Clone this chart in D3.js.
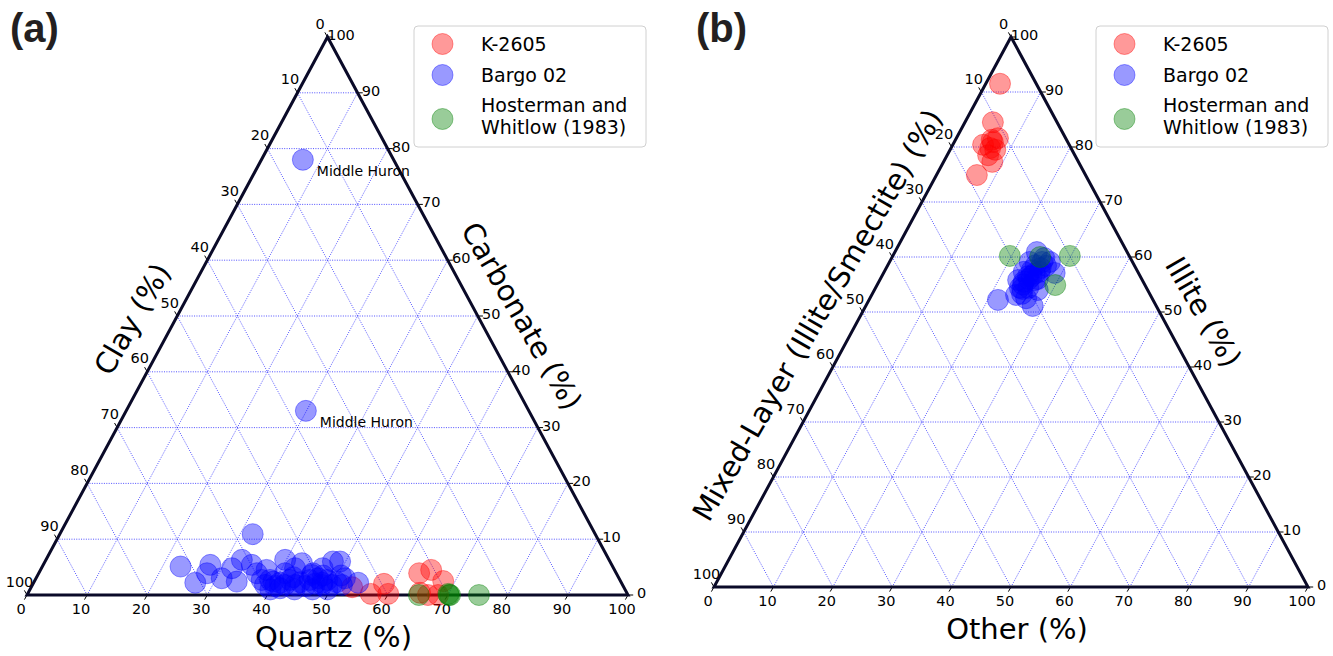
<!DOCTYPE html>
<html>
<head>
<meta charset="utf-8">
<script src="https://cdn.jsdelivr.net/npm/d3@7"></script>
<style>
  body { margin: 0; background: #fff; }
  svg { display: block; }
  text { font-family: "DejaVu Sans", "Noto Sans", sans-serif; fill: #000; }
</style>
</head>
<body>
<svg id="chart" width="1333" height="656"></svg>
<script>
// ---- Data -------------------------------------------------------------
// Ternary tick / grid values (percent)
const tickValues = [0, 10, 20, 30, 40, 50, 60, 70, 80, 90, 100];
const gridValues = [10, 20, 30, 40, 50, 60, 70, 80, 90];
const seriesNames = ["K-2605", "Bargo 02", "Hosterman and\nWhitlow (1983)"];

// (a) Bulk mineralogy: [Quartz, Carbonate, Clay] in %
const k2605Bulk = [
  [53.4, 1.4, 45.2], [57.1, 0.2, 42.7], [58.4, 2.0, 39.6], [60.0, 0.2, 39.8],
  [63.3, 3.9, 32.8], [65.0, 4.5, 30.5], [68.0, 2.5, 29.5], [65.2, 0.4, 34.4],
  [66.7, 0.0, 33.3], [68.4, 0.0, 31.6]
];
const bargoBulk = [
  [6.9, 78.0, 15.1], [29.9, 33.0, 37.1],
  [32.1, 10.9, 57.0], [23.0, 5.1, 71.9], [26.9, 2.2, 70.9], [27.8, 5.4, 66.8],
  [28.0, 3.9, 68.1], [30.9, 3.0, 66.1], [31.7, 4.8, 63.5], [32.6, 6.3, 61.1],
  [33.7, 2.4, 63.9], [34.7, 5.4, 59.9], [36.3, 3.9, 59.8], [37.6, 4.5, 57.9],
  [37.7, 2.7, 59.6], [39.8, 2.4, 57.8], [39.8, 6.3, 53.9], [42.2, 4.8, 53.0],
  [42.9, 5.7, 51.4], [41.0, 3.9, 55.1], [45.6, 3.9, 50.5], [47.9, 6.0, 46.1],
  [49.1, 6.0, 44.9], [46.8, 4.8, 48.4], [54.0, 2.2, 43.8], [38.7, 1.8, 59.5],
  [39.1, 2.7, 58.2], [40.5, 1.6, 57.9], [41.0, 2.2, 56.8], [42.0, 1.8, 56.2],
  [42.4, 2.7, 54.9], [43.7, 1.8, 54.5], [44.3, 2.3, 53.4], [45.5, 1.6, 52.9],
  [45.7, 2.7, 51.6], [46.9, 2.0, 51.1], [46.9, 3.0, 50.1], [48.2, 1.8, 50.0],
  [48.6, 2.7, 48.7], [49.8, 1.8, 48.4], [50.4, 2.3, 47.3], [51.5, 1.8, 46.7],
  [45.6, 3.6, 50.8], [51.4, 3.0, 45.6], [42.7, 3.2, 54.1], [40.0, 1.0, 59.0],
  [41.5, 1.2, 57.3], [47.0, 1.0, 52.0], [48.0, 2.2, 49.8], [49.5, 1.0, 49.5],
  [47.5, 3.5, 49.0], [44.0, 1.0, 55.0], [50.5, 3.5, 46.0]
];
const hostermanBulk = [
  [65.2, 0.0, 34.8], [70.2, 0.0, 29.8], [70.0, 0.2, 29.8], [70.4, 0.0, 29.6],
  [75.2, 0.0, 24.8]
];
// Labelled samples in (a): [Quartz, Carbonate, Clay]
const bulkAnnotations = [
  { text: "Middle Huron", at: [6.9, 78.0, 15.1] },
  { text: "Middle Huron", at: [29.9, 33.0, 37.1] }
];

// (b) Clay mineralogy: [Other, Illite, Mixed-Layer I/S] in %
const k2605Clay = [
  [2.4, 91.5, 6.1], [4.7, 84.5, 10.8], [7.0, 81.6, 11.4], [6.5, 80.9, 12.6],
  [5.1, 80.4, 14.5], [6.1, 81.3, 12.6], [6.6, 79.8, 13.6], [7.6, 79.5, 12.9],
  [6.9, 78.5, 14.6], [8.2, 77.3, 14.5], [6.8, 74.9, 18.3]
];
const bargoClay = [
  [21.7, 52.2, 26.1], [28.1, 51.1, 20.8], [23.9, 60.9, 15.2], [28.8, 57.1, 14.1],
  [24.3, 53.1, 22.6], [24.3, 54.4, 21.3], [24.4, 55.5, 20.1], [24.6, 56.5, 18.9],
  [24.7, 57.6, 17.7], [24.9, 58.5, 16.6], [25.7, 59.1, 15.2], [26.7, 58.4, 14.9],
  [26.2, 57.3, 16.5], [26.1, 55.8, 18.1], [25.7, 54.4, 19.9], [25.2, 53.3, 21.5],
  [23.3, 55.8, 20.9], [23.5, 57.3, 19.2], [23.6, 59.1, 17.3], [25.7, 59.8, 14.5],
  [27.0, 59.1, 13.9], [27.5, 54.0, 18.5], [26.3, 52.5, 21.2], [25.0, 56.0, 19.0],
  [25.5, 57.0, 17.5], [24.5, 55.0, 20.5], [26.0, 58.0, 16.0], [25.2, 56.5, 18.3],
  [24.8, 54.2, 21.0], [26.5, 56.0, 17.5]
];
const hostermanClay = [
  [19.7, 60.2, 20.1], [24.9, 60.0, 15.1], [29.8, 60.2, 10.0], [30.0, 54.9, 15.1]
];

// ---- Styling ----------------------------------------------------------
const seriesColors = ["#ff0000", "#0000ff", "#008000"];
const markerR = 10.5;
const edgeColor = "#0a0a28";

const svg = d3.select("#chart");

function drawPanel(cfg) {
  const g = svg.append("g");
  const xs = d3.scaleLinear().domain([0, 100]).range([cfg.frame.left, cfg.frame.right]);
  const ys = d3.scaleLinear().domain([0, 100]).range([cfg.frame.base, cfg.frame.top]);
  // ternary (bottom, right, left) -> screen
  const proj = (b, r) => [xs(b + r / 2), ys(r)];

  // grid
  const gridSegs = [];
  gridValues.forEach(v => {
    gridSegs.push([proj(0, v), proj(100 - v, v)]);     // constant right-axis value
    gridSegs.push([proj(v, 0), proj(v, 100 - v)]);     // constant bottom-axis value
    gridSegs.push([proj(0, 100 - v), proj(100 - v, 0)]); // constant left-axis value
  });
  g.append("g").selectAll("line").data(gridSegs).join("line")
    .attr("x1", d => d[0][0]).attr("y1", d => d[0][1])
    .attr("x2", d => d[1][0]).attr("y2", d => d[1][1])
    .attr("stroke", "#1a1aff").attr("stroke-width", 0.8)
    .attr("stroke-opacity", 0.95).attr("stroke-dasharray", "1,1.4");

  // ticks
  const tk = g.append("g");
  const tickFont = 14.5;
  tickValues.forEach(v => {
    // bottom axis
    let p = proj(v, 0);
    tk.append("line").attr("x1", p[0]).attr("y1", p[1]).attr("x2", p[0] - 2.6).attr("y2", p[1] + 4.6)
      .attr("stroke", "#000").attr("stroke-width", 1);
    tk.append("text").attr("x", p[0] - 6).attr("y", p[1] + 18.5).attr("text-anchor", "middle")
      .attr("font-size", tickFont).text(v);
    // right axis
    p = proj(100 - v, v);
    tk.append("line").attr("x1", p[0]).attr("y1", p[1]).attr("x2", p[0] + 5.2).attr("y2", p[1])
      .attr("stroke", "#000").attr("stroke-width", 1);
    tk.append("text").attr("x", p[0] + 13.5).attr("y", p[1] + 3).attr("text-anchor", "middle")
      .attr("font-size", tickFont).text(v);
    // left axis
    p = proj(0, 100 - v);
    tk.append("line").attr("x1", p[0]).attr("y1", p[1]).attr("x2", p[0] - 2.6).attr("y2", p[1] - 4.6)
      .attr("stroke", "#000").attr("stroke-width", 1);
    tk.append("text").attr("x", p[0] - 7.5).attr("y", p[1] - 8.5).attr("text-anchor", "middle")
      .attr("font-size", tickFont).text(v);
  });

  // triangle boundary
  const corners = [proj(0, 0), proj(100, 0), proj(0, 100)];
  g.append("polygon").attr("points", corners.map(c => c.join(",")).join(" "))
    .attr("fill", "none").attr("stroke", edgeColor).attr("stroke-width", 3)
    .attr("stroke-linejoin", "miter");

  // points
  cfg.series.forEach((pts, i) => {
    g.append("g").selectAll("circle").data(pts).join("circle")
      .attr("cx", d => proj(d[0], d[1])[0]).attr("cy", d => proj(d[0], d[1])[1])
      .attr("r", markerR)
      .attr("fill", seriesColors[i]).attr("fill-opacity", 0.4)
      .attr("stroke", seriesColors[i]).attr("stroke-opacity", 0.4).attr("stroke-width", 1);
  });

  // annotations
  (cfg.annotations || []).forEach(a => {
    const p = proj(a.at[0], a.at[1]);
    g.append("text").attr("x", p[0] + 14).attr("y", p[1] + 16)
      .attr("font-size", 14).text(a.text);
  });

  // axis titles
  const bottomMid = proj(50, 0);
  g.append("text").attr("x", bottomMid[0] + 6).attr("y", bottomMid[1] + 42).attr("dy", "0.35em")
    .attr("text-anchor", "middle").attr("font-size", 29).text(cfg.titles.bottom);
  const leftMid = proj(0, 50);
  g.append("text").attr("text-anchor", "middle").attr("dy", "0.35em").attr("font-size", 29)
    .attr("transform", `translate(${leftMid[0] - 45},${leftMid[1] + 3}) rotate(-60)`)
    .text(cfg.titles.left);
  const rightMid = proj(50, 50);
  g.append("text").attr("text-anchor", "middle").attr("dy", "0.35em").attr("font-size", 29)
    .attr("transform", `translate(${rightMid[0] + 44},${rightMid[1]}) rotate(60)`)
    .text(cfg.titles.right);

  // panel letter
  svg.append("text").attr("x", cfg.letterX).attr("y", 42)
    .style("font-family", "'Liberation Sans', Arial, sans-serif")
    .attr("font-size", 40).attr("font-weight", "bold").style("fill", "#231f20")
    .text(cfg.letter);

  // legend
  const lg = svg.append("g").attr("transform", `translate(${cfg.legendX},26)`);
  lg.append("rect").attr("x", 0).attr("y", 0).attr("width", 232).attr("height", 121)
    .attr("rx", 4).attr("fill", "#fff").attr("fill-opacity", 0.85)
    .attr("stroke", "#d0d0d0").attr("stroke-width", 1);
  const rowY = [18, 49, 93];
  seriesNames.forEach((name, i) => {
    lg.append("circle").attr("cx", 28.5).attr("cy", rowY[i]).attr("r", markerR)
      .attr("fill", seriesColors[i]).attr("fill-opacity", 0.4)
      .attr("stroke", seriesColors[i]).attr("stroke-opacity", 0.4);
    const lines = name.split("\n");
    const t = lg.append("text").attr("x", 67).attr("font-size", 19);
    if (lines.length === 1) {
      t.attr("y", rowY[i] + 7).text(name);
    } else {
      lines.forEach((ln, j) => {
        t.append("tspan").attr("x", 67).attr("y", rowY[i] - 7.5 + j * 22).text(ln);
      });
    }
  });
}

drawPanel({
  frame: { left: 27, right: 628, base: 595, top: 37 },
  series: [k2605Bulk, bargoBulk, hostermanBulk],
  annotations: bulkAnnotations,
  titles: { bottom: "Quartz (%)", left: "Clay (%)", right: "Carbonate (%)" },
  letter: "(a)", letterX: 10, legendX: 414
});

drawPanel({
  frame: { left: 714, right: 1308, base: 587, top: 37 },
  series: [k2605Clay, bargoClay, hostermanClay],
  titles: { bottom: "Other (%)", left: "Mixed-Layer (Illite/Smectite) (%)", right: "Illite (%)" },
  letter: "(b)", letterX: 696, legendX: 1096
});
</script>
</body>
</html>
